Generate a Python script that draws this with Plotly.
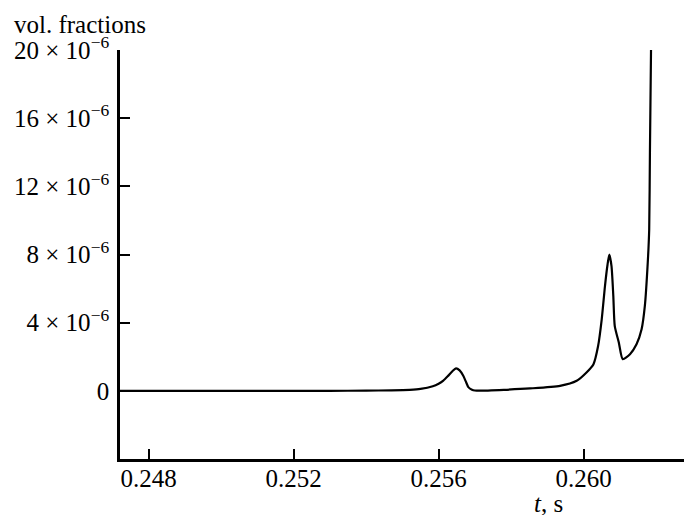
import plotly.graph_objects as go

# data (t in s, volume fraction in units of 1e-6)
t_vals = [0.24721, 0.2480, 0.2500, 0.2520, 0.2530, 0.2540, 0.2547, 0.2552, 0.25550,
          0.25584, 0.25600, 0.25613, 0.25625, 0.25638, 0.25648, 0.25658, 0.25668,
          0.25676, 0.25682, 0.25692, 0.25700, 0.25714, 0.25780, 0.25852, 0.25935,
          0.25981, 0.26008, 0.26027, 0.26040, 0.26050, 0.26059, 0.26066, 0.26071,
          0.26077, 0.26082, 0.26086, 0.26097, 0.26108, 0.26128, 0.26146, 0.26160,
          0.26169, 0.26177, 0.26181, 0.26183, 0.26186]
v_vals = [0.0, 0.0, 0.0, 0.0, 0.0, 0.01, 0.03, 0.06, 0.11,
          0.27, 0.42, 0.60, 0.85, 1.15, 1.32, 1.20, 0.88,
          0.50, 0.22, 0.07, 0.02, 0.01, 0.06, 0.14, 0.29,
          0.59, 1.08, 1.55, 2.63, 4.20, 6.15, 7.40, 8.00,
          7.32, 5.56, 3.80, 2.85, 1.86, 2.15, 2.73, 3.61,
          4.98, 7.52, 9.47, 14.0, 20.0]

y_tick_vals = [0, 4, 8, 12, 16, 20]
y_tick_text = ["0", "4 × 10<sup>−6</sup>", "8 × 10<sup>−6</sup>", "12 × 10<sup>−6</sup>",
               "16 × 10<sup>−6</sup>", "20 × 10<sup>−6</sup>"]
x_tick_vals = [0.248, 0.252, 0.256, 0.260]
x_tick_text = ["0.248", "0.252", "0.256", "0.260"]

FONT = "Liberation Serif"
FS = 25

fig = go.Figure()
fig.add_trace(go.Scatter(x=t_vals, y=v_vals, mode="lines",
                         line=dict(color="black", width=2.2, shape="spline", smoothing=0.6),
                         hoverinfo="skip", showlegend=False))

fig.update_layout(
    width=684, height=515,
    margin=dict(l=120, r=0, t=50, b=56),
    paper_bgcolor="white", plot_bgcolor="white",
    font=dict(family=FONT, size=FS, color="black"),
    xaxis=dict(range=[0.24721, 0.26277], tickvals=x_tick_vals, ticktext=x_tick_text,
               ticks="inside", ticklen=10, tickwidth=2, tickcolor="black",
               showline=True, linecolor="black", linewidth=2.5,
               showgrid=False, zeroline=False, ticklabelstandoff=-5,
               tickfont=dict(family=FONT, size=FS, color="black")),
    yaxis=dict(range=[-4, 20], tickvals=y_tick_vals, ticktext=y_tick_text,
               ticks="inside", ticklen=10, tickwidth=2, tickcolor="black",
               showline=True, linecolor="black", linewidth=2.5,
               showgrid=False, zeroline=False, ticklabelstandoff=3,
               tickfont=dict(family=FONT, size=FS, color="black")),
    annotations=[
        dict(text="vol. fractions", xref="paper", yref="paper",
             x=(12 - 120) / 564, y=(459 - 24) / 409, xanchor="left", yanchor="middle",
             showarrow=False, font=dict(family=FONT, size=FS, color="black")),
        dict(text="<i>t</i>, s", xref="paper", yref="paper",
             x=(548 - 120) / 564, y=(459 - 504) / 409, xanchor="center", yanchor="middle",
             showarrow=False, font=dict(family=FONT, size=FS, color="black")),
        dict(text="3", xref="paper", yref="paper",
             x=(2 - 120) / 564, y=(459 - 479) / 409, xanchor="right", yanchor="middle",
             showarrow=False, font=dict(family=FONT, size=FS, color="black")),
    ],
)

fig.write_html("out.html")
